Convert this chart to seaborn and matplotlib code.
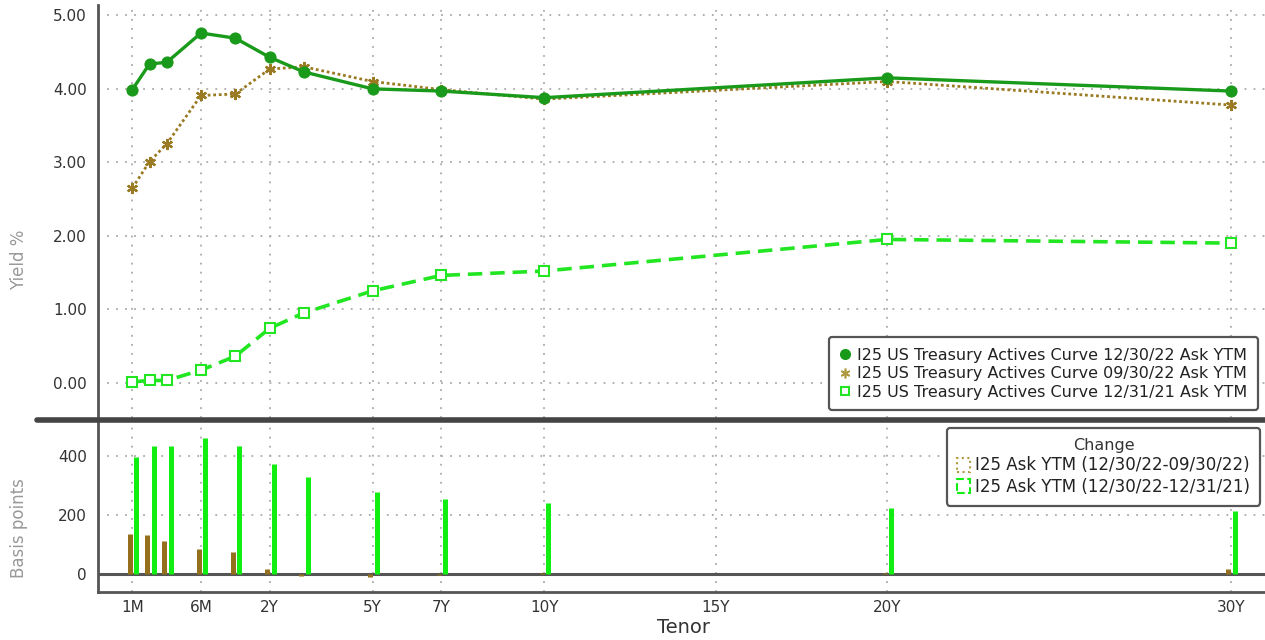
import numpy as np
import pandas as pd
import matplotlib
matplotlib.use("Agg")
import matplotlib.pyplot as plt
import matplotlib.transforms as mtransforms
from matplotlib.lines import Line2D
from matplotlib.patches import Patch
import seaborn as sns

# tenors of the curve, in years
tenors = ["1M", "2M", "3M", "6M", "1Y", "2Y", "3Y", "5Y", "7Y", "10Y", "20Y", "30Y"]
tenor_years = [1/12, 2/12, 3/12, 0.5, 1, 2, 3, 5, 7, 10, 20, 30]

# yields in %
ytm_dec22 = [3.99, 4.34, 4.36, 4.76, 4.69, 4.43, 4.23, 4.00, 3.97, 3.88, 4.15, 3.97]
ytm_sep22 = [2.65, 3.01, 3.25, 3.91, 3.93, 4.27, 4.30, 4.10, 3.99, 3.86, 4.10, 3.78]
ytm_dec21 = [0.01, 0.03, 0.03, 0.17, 0.36, 0.74, 0.95, 1.25, 1.46, 1.52, 1.95, 1.90]

# changes in basis points
chg_vs_sep22 = [134, 133, 111, 85, 76, 16, -6, -10, -2, 3, 4, 18]
chg_vs_dec21 = [398, 433, 433, 460, 433, 372, 329, 277, 254, 240, 224, 212]

tick_labels = ["1M", "6M", "2Y", "5Y", "7Y", "10Y", "15Y", "20Y", "30Y"]
tick_years = [1/12, 0.5, 2, 5, 7, 10, 15, 20, 30]

names = ["I25 US Treasury Actives Curve 12/30/22 Ask YTM",
         "I25 US Treasury Actives Curve 09/30/22 Ask YTM",
         "I25 US Treasury Actives Curve 12/31/21 Ask YTM"]
chg_names = ["I25 Ask YTM (12/30/22-09/30/22)", "I25 Ask YTM (12/30/22-12/31/21)"]

dark_green = "#1a9a1a"
brown = "#9a7a22"
light_green = "#22e622"
bar_brown = "#94701c"
bar_green = "#11ee11"

sns.set_style("white")
plt.rcParams["font.family"] = ["DejaVu Sans"]

# Bloomberg-like tenor axis: short end stretched, linear beyond 1Y
knots_y = [0, 1/12, 0.25, 0.5, 1, 40]
knots_u = [-3, -2, -1, 0, 1, 40]
def fwd(x):
    return np.interp(x, knots_y, knots_u)
def inv(u):
    return np.interp(u, knots_u, knots_y)

fig = plt.figure(figsize=(12.65, 6.4), dpi=100)
ax = fig.add_axes([0.0775, 0.347, 0.9225, 0.645])
ax2 = fig.add_axes([0.0775, 0.075, 0.9225, 0.267], sharex=ax)
ax.set_xscale("function", functions=(fwd, inv))

df = pd.DataFrame({"years": tenor_years, "dec22": ytm_dec22,
                   "sep22": ytm_sep22, "dec21": ytm_dec21})

sns.lineplot(ax=ax, data=df, x="years", y="dec21", color=light_green, lw=2.6,
             linestyle=(0, (4, 2.2)), marker="s", markersize=6.5,
             markerfacecolor="white", markeredgecolor=light_green, markeredgewidth=1.5, zorder=3)
sns.lineplot(ax=ax, data=df, x="years", y="sep22", color=brown, lw=2.0,
             linestyle=(0, (1, 1)), marker=(6, 2, 0), markersize=8,
             markeredgecolor=brown, markeredgewidth=1.6, zorder=4)
sns.lineplot(ax=ax, data=df, x="years", y="dec22", color=dark_green, lw=2.4,
             marker="o", markersize=8, markeredgecolor=dark_green, zorder=5)

ax.set_ylim(-0.48, 5.14)
ax.set_yticks([0, 1, 2, 3, 4, 5])
ax.set_yticklabels(["%.2f" % v for v in [0, 1, 2, 3, 4, 5]])
ax.set_yticks([0.5, 1.5, 2.5, 3.5, 4.5], minor=True)
ax.set_xlim(0, 31)
ax.set_xticks(tick_years)
ax.tick_params(axis="x", length=0, labelbottom=False)
ax.tick_params(axis="y", which="major", direction="out", length=6, width=2.5,
               color="#222", labelsize=11, labelcolor="#333", pad=2)
ax.tick_params(axis="y", which="minor", direction="out", length=3, width=2, color="#333")
ax.grid(True, which="major", color="#aaaaaa", lw=1.3, linestyle=(0, (1, 4)))
for s in ["top", "right", "bottom"]:
    ax.spines[s].set_visible(False)
ax.spines["left"].set_color("#555")
ax.spines["left"].set_linewidth(2)
ax.set_xlabel("")
ax.set_ylabel("Yield %", color="#999", fontsize=12)
ax.yaxis.set_label_coords(0.0221, 0.594, transform=fig.transFigure)

handles = [Line2D([], [], ls="none", marker="o", color=dark_green, markersize=7),
           Line2D([], [], ls="none", marker=(6, 2, 0), color="#b09a40", markersize=7, markeredgewidth=1.2),
           Line2D([], [], ls="none", marker="s", markerfacecolor="white", markeredgecolor=light_green,
                  markersize=6, markeredgewidth=1.5)]
leg = ax.legend(handles, names, loc="lower right", bbox_to_anchor=(0.994, 0.019),
                borderaxespad=0, fontsize=11.5, handlelength=0.8, handletextpad=0.35,
                labelspacing=0.22, frameon=True, fancybox=True, framealpha=1,
                edgecolor="#555", borderpad=0.65)
leg.get_frame().set_linewidth(1.6)
for t in leg.get_texts():
    t.set_color("#222")

# change bars, side by side around each tenor
off_b = mtransforms.ScaledTranslation(-2.5 / 100, 0, fig.dpi_scale_trans)
off_g = mtransforms.ScaledTranslation(4.0 / 100, 0, fig.dpi_scale_trans)
ax2.axhline(0, color="#555", lw=2.2, zorder=1.5)
ax2.vlines(tenor_years, 0, chg_vs_sep22, colors=bar_brown, lw=3.6, capstyle="butt",
           transform=ax2.transData + off_b, zorder=2)
ax2.vlines(tenor_years, 0, chg_vs_dec21, colors=bar_green, lw=3.6, capstyle="butt",
           transform=ax2.transData + off_g, zorder=2)

ax2.set_ylim(-61, 518)
ax2.set_yticks([0, 200, 400])
ax2.set_yticks([100, 300], minor=True)
ax2.set_xticks(tick_years)
ax2.set_xticklabels(tick_labels)
ax2.tick_params(axis="x", direction="out", length=4, width=1.5, color="#444",
                labelsize=11, labelcolor="#333", pad=2)
ax2.tick_params(axis="y", which="major", direction="out", length=6, width=2.5,
                color="#222", labelsize=11, labelcolor="#333", pad=2)
ax2.tick_params(axis="y", which="minor", direction="out", length=3, width=2, color="#333")
ax2.grid(True, which="major", color="#aaaaaa", lw=1.3, linestyle=(0, (1, 4)))
for s in ["top", "right"]:
    ax2.spines[s].set_visible(False)
for s in ["left", "bottom"]:
    ax2.spines[s].set_color("#555")
    ax2.spines[s].set_linewidth(2)
ax2.set_ylabel("Basis points", color="#999", fontsize=12)
ax2.yaxis.set_label_coords(0.0221, 0.175, transform=fig.transFigure)
ax2.set_xlabel("Tenor", color="#333", fontsize=14)
ax2.xaxis.set_label_coords(0.54, 0.035, transform=fig.transFigure)

chg_handles = [Patch(facecolor="none", edgecolor="#b09a40", linestyle=":", lw=1.5),
               Patch(facecolor="none", edgecolor=bar_green, linestyle="--", lw=1.5)]
leg2 = ax2.legend(chg_handles, chg_names, title="Change", loc="upper right",
                  bbox_to_anchor=(0.996, 0.959), borderaxespad=0, fontsize=12,
                  title_fontsize=11.5, handlelength=0.8, handleheight=0.9, handletextpad=0.3,
                  labelspacing=0.2, frameon=True, fancybox=True, framealpha=1,
                  edgecolor="#555", borderpad=0.6)
leg2.get_frame().set_linewidth(1.6)
leg2.get_title().set_color("#333")
for t in leg2.get_texts():
    t.set_color("#222")

# panel separator
fig.add_artist(Line2D([0.029, 1.0], [0.3445, 0.3445], transform=fig.transFigure,
                      color="#444", lw=4))

fig.savefig("out.png", dpi=100)
